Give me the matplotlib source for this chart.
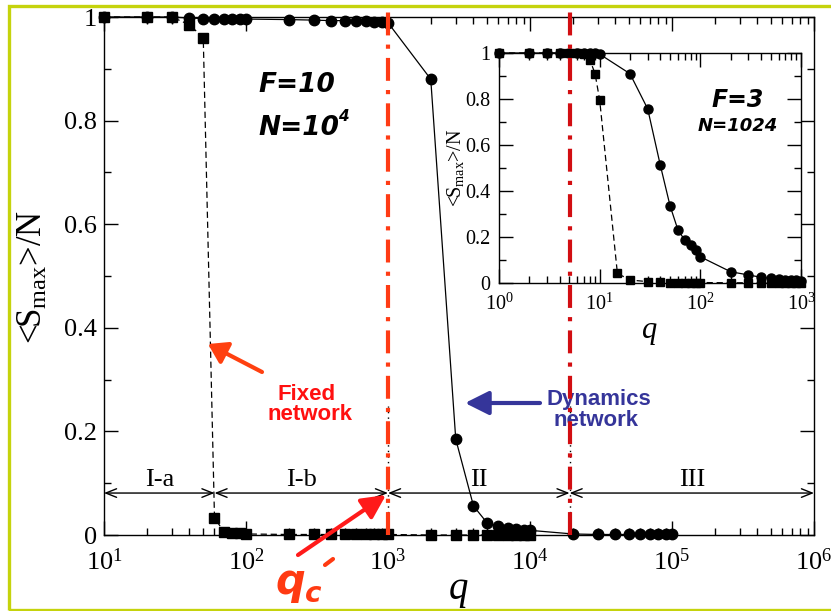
import numpy as np
import matplotlib
matplotlib.use('Agg')
import matplotlib.pyplot as plt
from matplotlib.ticker import FixedLocator, LogLocator, FuncFormatter, NullFormatter, MultipleLocator
from matplotlib.lines import Line2D
from matplotlib.patches import Rectangle

# ---------------- data ----------------
q_main_dyn = [10, 20, 30, 40, 50, 60, 70, 80, 90, 100, 200, 300, 400, 500, 600, 700, 800, 900, 1000,
              2000, 3000, 4000, 5000, 6000, 7000, 8000, 9000, 10000,
              20000, 30000, 40000, 50000, 60000, 70000, 80000, 90000, 100000]
s_main_dyn = [1.0, 1.0, 1.0, 0.998, 0.997, 0.997, 0.997, 0.996, 0.996, 0.996, 0.995, 0.994, 0.993, 0.993,
              0.992, 0.992, 0.991, 0.991, 0.989,
              0.88, 0.185, 0.056, 0.023, 0.017, 0.013, 0.011, 0.010, 0.009,
              0.002, 0.001, 0.001, 0.001, 0.001, 0.001, 0.001, 0.001, 0.001]

q_main_fix = [10, 20, 30, 40, 50, 60, 70, 80, 90, 100, 200, 300, 400, 500, 600, 700, 800, 900, 1000,
              2000, 3000, 4000, 5000, 6000, 7000, 8000, 9000, 10000]
s_main_fix = [1.0, 1.0, 1.0, 0.985, 0.96, 0.033, 0.006, 0.004, 0.003, 0.002,
              0.001, 0.001, 0.001, 0.001, 0.001, 0.001, 0.001, 0.001, 0.001,
              0.0, 0.0, 0.0, 0.0, 0.0, 0.0, 0.0, 0.0, 0.0]

q_in_dyn = [1, 2, 3, 4, 5, 6, 7, 8, 9, 10, 20, 30, 40, 50, 60, 70, 80, 90, 100,
            200, 300, 400, 500, 600, 700, 800, 900, 1000]
s_in_dyn = [1.0, 1.0, 1.0, 1.0, 1.0, 1.0, 1.0, 1.0, 1.0, 0.995, 0.91, 0.757, 0.513, 0.336, 0.23, 0.187,
            0.165, 0.143, 0.114, 0.049, 0.035, 0.025, 0.02, 0.017, 0.015, 0.013, 0.011, 0.01]

q_in_fix = [1, 2, 3, 4, 5, 6, 7, 8, 9, 10, 15, 20, 30, 40, 50, 60, 70, 80, 90, 100,
            200, 300, 400, 500, 600, 700, 800, 900, 1000]
s_in_fix = [1.0, 1.0, 1.0, 1.0, 1.0, 1.0, 0.995, 0.97, 0.91, 0.796, 0.042, 0.013, 0.006, 0.003, 0.002,
            0.002, 0.002, 0.002, 0.002, 0.002, 0.001, 0.001, 0.001, 0.001, 0.001, 0.001, 0.001, 0.001, 0.001]

# region boundaries and labels
bounds = [10, 60, 1000, 19000, 1e6]
region_labels = ['I-a', 'I-b', 'II', 'III']
y_ticks = [0, 0.2, 0.4, 0.6, 0.8, 1.0]

# ---------------- style ----------------
plt.rcParams['font.family'] = 'serif'
plt.rcParams['font.serif'] = ['Liberation Serif', 'DejaVu Serif']
plt.rcParams['mathtext.fontset'] = 'custom'
plt.rcParams['mathtext.rm'] = 'Liberation Serif'
plt.rcParams['mathtext.it'] = 'Liberation Serif:italic'
plt.rcParams['mathtext.bf'] = 'Liberation Serif:bold'

W, H = 831, 611
fig = plt.figure(figsize=(W / 100, H / 100), dpi=100)


def P(x, y):
    return (x / W, 1 - y / H)


def style_axes(ax, xmin, xmax, major_len, minor_len, lab_size, xpad, ypad):
    ax.set_xscale('log')
    ax.set_xlim(xmin, xmax)
    ax.set_ylim(0, 1)
    ax.xaxis.set_major_locator(LogLocator(base=10, numticks=20))
    ax.xaxis.set_minor_locator(LogLocator(base=10, subs=np.arange(2, 10), numticks=20))
    ax.xaxis.set_minor_formatter(NullFormatter())
    ax.xaxis.set_major_formatter(FuncFormatter(lambda v, p: r'$\mathregular{10^{%d}}$' % round(np.log10(v))))
    ax.yaxis.set_major_locator(FixedLocator(y_ticks))
    ax.yaxis.set_minor_locator(MultipleLocator(0.1))
    ax.yaxis.set_major_formatter(FuncFormatter(lambda v, p: '%g' % round(v, 1)))
    ax.tick_params(which='both', direction='in', top=True, right=True, width=1.0, color='black')
    ax.tick_params(which='major', length=major_len)
    ax.tick_params(which='minor', length=minor_len)
    ax.tick_params(axis='x', which='major', labelsize=lab_size, pad=xpad)
    ax.tick_params(axis='y', which='major', labelsize=lab_size, pad=ypad)
    for s in ax.spines.values():
        s.set_linewidth(1.0)


# ---------------- main axes ----------------
ax = fig.add_axes([104 / W, 1 - 535 / H, 710 / W, 518 / H])
style_axes(ax, 10, 1e6, 10, 5, 19, 10, 5)

ax.plot(q_main_fix, s_main_fix, color='black', lw=0.9, ls=(0, (5, 3)), marker='s', ms=6.5,
        clip_on=False, zorder=3)
ax.plot(q_main_dyn, s_main_dyn, color='black', lw=0.9, ls='-', marker='o', ms=7.5,
        clip_on=False, zorder=4)

# black dotted boundary lines
for b in bounds[2:4]:
    ax.plot([b, b], [0, 0.25], color='black', lw=1.0, ls=(0, (1, 3)), zorder=2)

# region arrows
arr_y = 0.081
for i, lab in enumerate(region_labels):
    ax.annotate('', xy=(bounds[i + 1], arr_y), xytext=(bounds[i], arr_y),
                arrowprops=dict(arrowstyle='<->,head_length=0.55,head_width=0.22', lw=1.0,
                                color='black', shrinkA=0, shrinkB=0, mutation_scale=14),
                zorder=3, annotation_clip=False)
    xm = np.sqrt(bounds[i] * bounds[i + 1])
    ax.text(xm, arr_y + 0.004, lab, ha='center', va='bottom', fontsize=19, zorder=3)

# ---------------- inset ----------------
axi = fig.add_axes([499 / W, 1 - 283 / H, 302 / W, 230 / H])
style_axes(axi, 1, 1000, 10, 5, 14.5, 7.5, 6)
axi.set_facecolor('white')
axi.plot(q_in_fix, s_in_fix, color='black', lw=0.9, ls=(0, (5, 3)), marker='s', ms=5.5,
         clip_on=False, zorder=3)
axi.plot(q_in_dyn, s_in_dyn, color='black', lw=0.9, ls='-', marker='o', ms=6.5,
         clip_on=False, zorder=4)

# ---------------- vertical red dash-dot lines ----------------
trans = ax.get_xaxis_transform()
l1 = Line2D([1000, 1000], [0, 1.01], transform=trans, color='#ff3b14', lw=3.0,
            dashes=(5.5, 2.2, 1, 2.2), zorder=6)
l2 = Line2D([19000, 19000], [0, 1.01], transform=trans, color='#d20e12', lw=3.0,
            dashes=(5.5, 2.2, 1, 2.2), zorder=6)
fig.add_artist(l1)
fig.add_artist(l2)

# ---------------- labels ----------------
fig.text(*P(33, 277), r'<S$_{\mathregular{max}}$>/N', rotation=90, ha='center', va='center', fontsize=25)
fig.text(*P(458, 590), 'q', style='italic', ha='center', va='center', fontsize=28)
fig.text(*P(456, 168), r'<S$_{\mathregular{max}}$>/N', rotation=90, ha='center', va='center', fontsize=14.5)
fig.text(*P(650, 330), 'q', style='italic', ha='center', va='center', fontsize=22)

comic = dict(family='DejaVu Sans', weight='bold', style='oblique', color='black')
fig.text(*P(258, 85), 'F=10', ha='left', va='center', fontsize=19, **comic)
fig.text(*P(258, 128), 'N=10', ha='left', va='center', fontsize=19, **comic)
fig.text(*P(338, 117), '4', ha='left', va='center', fontsize=11, **comic)
fig.text(*P(738, 100), 'F=3', ha='center', va='center', fontsize=17, **comic)
fig.text(*P(738, 126), 'N=1024', ha='center', va='center', fontsize=13, **comic)

sans = dict(family='Liberation Sans', weight='bold')
fig.text(*P(307, 395), 'Fixed', ha='center', va='center', fontsize=16, color='#ff1010', **sans)
fig.text(*P(310, 415), 'network', ha='center', va='center', fontsize=16, color='#ff1010', **sans)
fig.text(*P(599, 400), 'Dynamics', ha='center', va='center', fontsize=16, color='#35359a', **sans)
fig.text(*P(596, 420), 'network', ha='center', va='center', fontsize=16, color='#35359a', **sans)

# q_c'
qc = dict(family='DejaVu Sans', weight='bold', style='oblique', color='#ff3a12')
fig.text(*P(290, 582), 'q', ha='center', va='center', fontsize=30, **qc)
fig.text(*P(313, 594), 'c', ha='center', va='center', fontsize=20, **qc)
fig.add_artist(Line2D([325 / W, 333 / W], [1 - 565 / H, 1 - 559 / H], color='#ff3a12', lw=3.0,
                      solid_capstyle='round'))

# arrows
fig.add_artist(matplotlib.patches.FancyArrowPatch(P(262, 372), P(208, 344), transform=fig.transFigure,
               arrowstyle='-|>,head_length=0.7,head_width=0.45', mutation_scale=16,
               color='#ff4010', lw=3.0, shrinkA=0, shrinkB=0, zorder=7))
fig.add_artist(matplotlib.patches.FancyArrowPatch(P(540, 403), P(465, 403), transform=fig.transFigure,
               arrowstyle='-|>,head_length=0.9,head_width=0.45', mutation_scale=16,
               color='#35359a', lw=3.0, shrinkA=0, shrinkB=0, zorder=7))
fig.add_artist(matplotlib.patches.FancyArrowPatch(P(298, 555), P(386, 495), transform=fig.transFigure,
               arrowstyle='-|>,head_length=0.9,head_width=0.45', mutation_scale=16,
               color='#ff1a1a', lw=3.0, shrinkA=0, shrinkB=0, zorder=7))

# border
fig.add_artist(Rectangle((9 / W, 1 - 609.5 / H), (W + 20) / W, (609.5 - 5.5) / H, transform=fig.transFigure,
                         fill=False, edgecolor='#c5d30c', lw=2.4, zorder=10, clip_on=False))

fig.savefig('out.png', dpi=100)
